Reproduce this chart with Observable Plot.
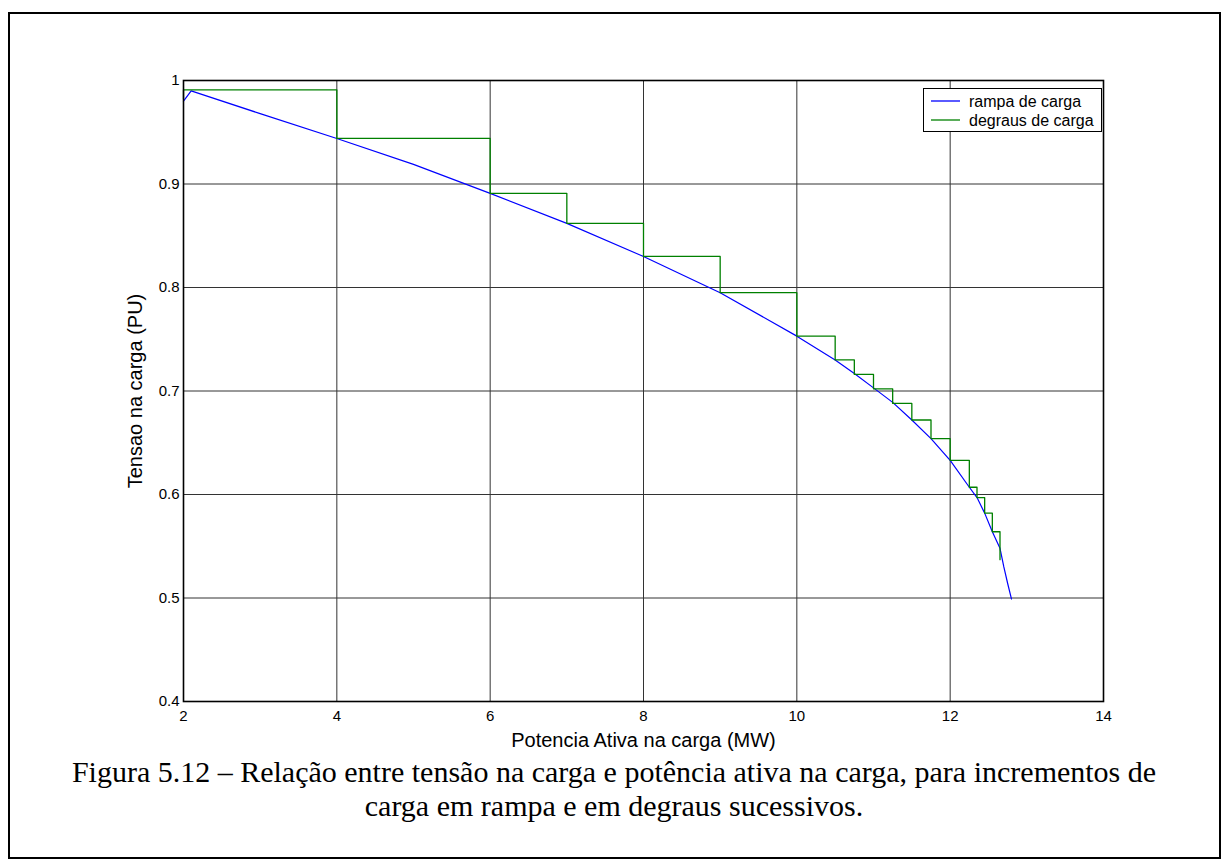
<!DOCTYPE html>
<html>
<head>
<meta charset="utf-8">
<script src="https://cdn.jsdelivr.net/npm/d3@7"></script>
<script src="https://cdn.jsdelivr.net/npm/@observablehq/plot@0.6"></script>
<style>
  html, body { margin: 0; padding: 0; background: #fff; }
  #page { position: relative; width: 1228px; height: 868px; overflow: hidden; background: #fff; }
  #box { position: absolute; left: 8px; top: 12px; width: 1209px; height: 843px; border: 2px solid #000; }
  #chart { position: absolute; left: 0; top: 0; }
  #legend { position: absolute; left: 923px; top: 88px; width: 177px; height: 42px; border: 1px solid #000; background: #fff; }
  #caption { position: absolute; left: 8px; width: 1212px; top: 755px; text-align: center;
             font-family: "Liberation Serif", "Times New Roman", serif; font-size: 30px; line-height: 34px; color: #000; }
</style>
</head>
<body>
<div id="page">
  <div id="box"></div>
  <div id="chart"></div>
  <div id="legend"></div>
  <div id="caption"></div>
</div>
<script>
// ---- data ----
const xTicks = [2, 4, 6, 8, 10, 12, 14];
const yTicks = [0.4, 0.5, 0.6, 0.7, 0.8, 0.9, 1.0];

// blue curve: "rampa de carga"
const rampX = [2, 2.1, 3, 4, 5, 6, 7, 8, 9, 10, 10.5, 10.75, 11, 11.25, 11.5, 11.75, 12, 12.25, 12.35, 12.45, 12.55, 12.65, 12.7, 12.75, 12.8];
const rampY = [0.980, 0.990, 0.968, 0.944, 0.919, 0.891, 0.862, 0.830, 0.795, 0.753, 0.730, 0.717, 0.703, 0.689, 0.672, 0.654, 0.633, 0.607, 0.597, 0.582, 0.564, 0.548, 0.530, 0.514, 0.499];

// green staircase: "degraus de carga" (step-after)
const stepX = [2, 2, 4, 6, 7, 8, 9, 10, 10.5, 10.75, 11, 11.25, 11.5, 11.75, 12, 12.25, 12.35, 12.45, 12.55, 12.65];
const stepY = [0.982, 0.991, 0.944, 0.891, 0.862, 0.830, 0.795, 0.753, 0.730, 0.716, 0.702, 0.688, 0.672, 0.654, 0.633, 0.607, 0.597, 0.582, 0.564, 0.537];

const seriesNames = ["rampa de carga", "degraus de carga"];
const seriesColors = ["#0000ff", "#008000"];
const xLabel = "Potencia Ativa na carga (MW)";
const yLabel = "Tensao na carga (PU)";
const captionLines = [
  "Figura 5.12 – Relação entre tensão na carga e potência ativa na carga, para incrementos de",
  "carga em rampa e em degraus sucessivos."
];

const ramp = rampX.map((x, i) => ({x, y: rampY[i]}));
const steps = stepX.map((x, i) => ({x, y: stepY[i]}));
const fmt = d => String(+d.toFixed(1));

const chart = Plot.plot({
  width: 1228,
  height: 760,
  marginLeft: 183,
  marginRight: 125,
  marginTop: 80,
  marginBottom: 59,
  style: {fontFamily: "'Liberation Sans', Arial, sans-serif", fontSize: "15px", color: "#000", background: "transparent"},
  x: {domain: [2, 14]},
  y: {domain: [0.4, 1]},
  marks: [
    Plot.gridX(xTicks, {stroke: "#333", strokeOpacity: 1, strokeWidth: 1}),
    Plot.gridY(yTicks, {stroke: "#333", strokeOpacity: 1, strokeWidth: 1}),
    Plot.axisX({ticks: xTicks, tickSize: 0, tickPadding: 9, tickFormat: fmt, label: null, fontSize: 15}),
    Plot.axisY({ticks: yTicks, tickSize: 0, tickPadding: 4, tickFormat: fmt, label: null, fontSize: 15}),
    Plot.line(ramp, {x: "x", y: "y", stroke: seriesColors[0], strokeWidth: 1.2}),
    Plot.line(steps, {x: "x", y: "y", curve: "step-after", stroke: seriesColors[1], strokeWidth: 1.3}),
    Plot.frame({stroke: "#000", strokeWidth: 1.6}),
    Plot.text([xLabel], {frameAnchor: "bottom", lineAnchor: "middle", textAnchor: "middle", dy: 39, fontSize: 20}),
    Plot.text([yLabel], {frameAnchor: "left", lineAnchor: "middle", textAnchor: "middle", dx: -48, rotate: -90, fontSize: 20})
  ]
});
document.getElementById("chart").appendChild(chart);

// legend
const lg = d3.select("#legend").append("svg").attr("width", 177).attr("height", 42)
  .style("font-family", "'Liberation Sans', Arial, sans-serif").style("font-size", "16px");
seriesNames.forEach((name, i) => {
  const y = 12 + i * 19;
  lg.append("line").attr("x1", 7).attr("x2", 36).attr("y1", y).attr("y2", y)
    .attr("stroke", seriesColors[i]).attr("stroke-width", 1.3);
  lg.append("text").attr("x", 45).attr("y", y).attr("dy", "0.35em").text(name);
});

// caption
document.getElementById("caption").innerHTML = captionLines.join("<br>");
</script>
</body>
</html>
